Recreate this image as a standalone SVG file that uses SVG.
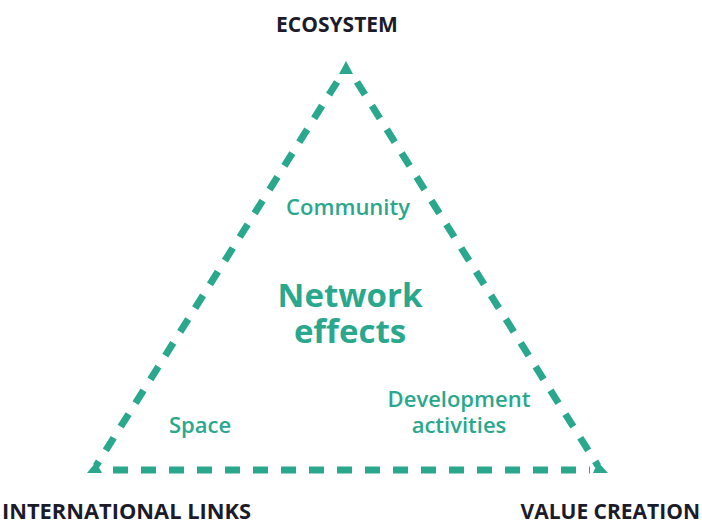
<svg xmlns="http://www.w3.org/2000/svg" width="702" height="525" viewBox="0 0 702 525">
<style>
.edge{fill:none;stroke:#2aa88e;stroke-width:7;stroke-dasharray:15 13}
.corner{fill:#2aa88e}
.lab{font-family:"Open Sans","Liberation Sans",sans-serif;font-weight:700;fill:#1b1b2b;font-size:21px}
.in{font-family:"Open Sans","Liberation Sans",sans-serif;font-weight:600;fill:#2aa88e;font-size:22px;text-anchor:middle}
.big{font-family:"Open Sans","Liberation Sans",sans-serif;font-weight:700;fill:#2aa88e;font-size:33px;text-anchor:middle}
</style>
<rect width="702" height="525" fill="#fff"/>
<g id="connectors">
<line class="edge" x1="337" y1="82" x2="96" y2="466"/>
<line class="edge" x1="357" y1="82" x2="598" y2="466"/>
<line class="edge" x1="113" y1="470" x2="590" y2="470"/>
<polygon class="corner" points="346,61 353,74 339,74"/>
<polygon class="corner" points="87,473 102,473 96,462"/>
<polygon class="corner" points="593,473 608,473 598,462"/>
</g>
<g id="ecosystem"><text class="lab" x="337" y="32" text-anchor="middle">ECOSYSTEM</text></g>
<g id="international-links"><text class="lab" x="2" y="519" textLength="249" lengthAdjust="spacingAndGlyphs">INTERNATIONAL LINKS</text></g>
<g id="value-creation"><text class="lab" x="700" y="519" text-anchor="end">VALUE CREATION</text></g>
<g id="community"><text class="in" x="348" y="215">Community</text></g>
<g id="network-effects"><text class="big" x="350" y="307">Network</text><text class="big" x="350" y="343">effects</text></g>
<g id="space"><text class="in" x="200" y="433">Space</text></g>
<g id="development"><text class="in" x="459" y="407">Development</text><text class="in" x="459" y="433">activities</text></g>
</svg>
